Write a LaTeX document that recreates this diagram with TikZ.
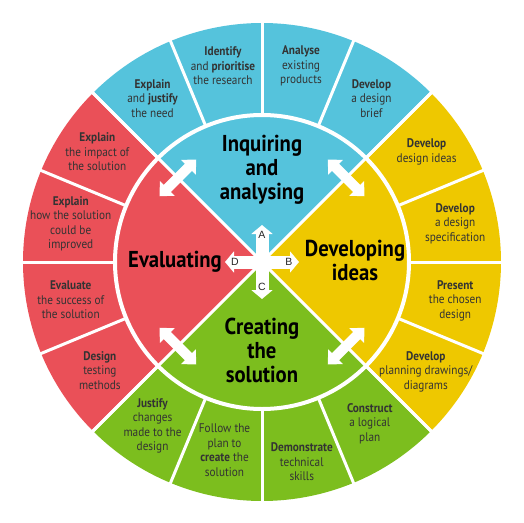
\documentclass[tikz,border=0pt]{standalone}
\usepackage{fontspec}
\setmainfont{PT Sans}[FakeStretch=0.9]
\newfontfamily\letterfont{Liberation Sans}
\usetikzlibrary{arrows.meta}

\definecolor{inqblue}{HTML}{55C3DC}
\definecolor{devyellow}{HTML}{EEC800}
\definecolor{cregreen}{HTML}{7CBE1E}
\definecolor{evalred}{HTML}{EA5058}

\tikzset{
  steptext/.style={align=center, font=\fontsize{12.5}{14.5}\selectfont, text=black!80},
  stage/.style={align=center, font=\fontsize{23}{24}\selectfont\bfseries},
  sep/.style={white, line width=3pt},
  flow/.style={white, line width=10pt, {Triangle[width=20pt,length=11pt]}-{Triangle[width=20pt,length=11pt]}},
  hub/.style={white, line width=13pt, {Triangle[width=21pt,length=9pt]}-{Triangle[width=21pt,length=9pt]}},
  hubletter/.style={font=\letterfont\fontsize{10.5}{10.5}\selectfont, inner sep=0pt, text=black!85}
}

\begin{document}
\begin{tikzpicture}[x=1pt,y=1pt]
	\useasboundingbox (-262,-260) rectangle (262,262);
	% quadrants
	\fill[inqblue] (0,0) -- (45:239) arc[start angle=45,end angle=135,radius=239] -- cycle;
	\fill[devyellow] (0,0) -- (-45:239) arc[start angle=-45,end angle=45,radius=239] -- cycle;
	\fill[cregreen] (0,0) -- (-135:239) arc[start angle=-135,end angle=-45,radius=239] -- cycle;
	\fill[evalred] (0,0) -- (135:239) arc[start angle=135,end angle=225,radius=239] -- cycle;
	% white gaps
	\draw[white, line width=4pt] (0,0) circle[radius=147];
	\foreach \a in {0,22.5,...,337.5} \draw[sep] (\a:147) -- (\a:241);
	\foreach \a in {45,135,225,315} \draw[sep] (0,0) -- (\a:241);
	% arrows between stages
	\draw[flow, rotate=45] (119,26) -- (119,-26);
	\draw[flow, rotate=135] (119,26) -- (119,-26);
	\draw[flow, rotate=225] (119,26) -- (119,-26);
	\draw[flow, rotate=315] (119,26) -- (119,-26);
	% hub
	\draw[hub] (0,-37) -- (0,37);
	\draw[hub] (-37,0) -- (37,0);
	\node[hubletter] (h_a) at (0,27) {A};
	\node[hubletter] (h_b) at (27,0) {B};
	\node[hubletter] (h_c) at (0,-25) {C};
	\node[hubletter] (h_d) at (-27,0) {D};
	% stages
	\node[stage] (m_1) at (0,92) {Inquiring\\and\\analysing};
	\node[stage] (m_2) at (93,2) {Developing\\ideas};
	\node[stage] (m_3) at (0,-88) {Creating\\the\\solution};
	\node[stage] (m_4) at (-87,0) {Evaluating};
	% steps
	\node[steptext] (o_1) at (123.75:197) {\textbf{Explain}\\and \textbf{justify}\\the need};
	\node[steptext] (o_2) at (101.25:200) {\textbf{Identify}\\and \textbf{prioritise}\\the research};
	\node[steptext] (o_3) at (78.75:200) {\textbf{Analyse}\\existing\\products};
	\node[steptext] (o_4) at (56.25:197) {\textbf{Develop}\\a design\\brief};
	\node[steptext] (o_5) at (33.75:198) {\textbf{Develop}\\design ideas};
	\node[steptext] (o_6) at (11.25:197) {\textbf{Develop}\\a design\\specification};
	\node[steptext] (o_7) at (-11.25:197) {\textbf{Present}\\the chosen\\design};
	\node[steptext] (o_8) at (-33.75:197) {\textbf{Develop}\\planning drawings/\\diagrams};
	\node[steptext] (o_9) at (-56.25:194) {\textbf{Construct}\\a logical\\plan};
	\node[steptext] (o_10) at (-78.75:204) {\textbf{Demonstrate}\\technical\\skills};
	\node[steptext] (o_11) at (-101.25:192) {Follow the\\plan to\\\textbf{create} the\\solution};
	\node[steptext] (o_12) at (-123.75:197) {\textbf{Justify}\\changes\\made to the\\design};
	\node[steptext] (o_13) at (-146.25:195) {\textbf{Design}\\testing\\methods};
	\node[steptext] (o_14) at (-168.75:195) {\textbf{Evaluate}\\the success of\\the solution};
	\node[steptext] (o_15) at (168.75:195) {\textbf{Explain}\\how the solution\\could be\\improved};
	\node[steptext] (o_16) at (146.25:198) {\textbf{Explain}\\the impact of\\the solution};
\end{tikzpicture}
\end{document}
